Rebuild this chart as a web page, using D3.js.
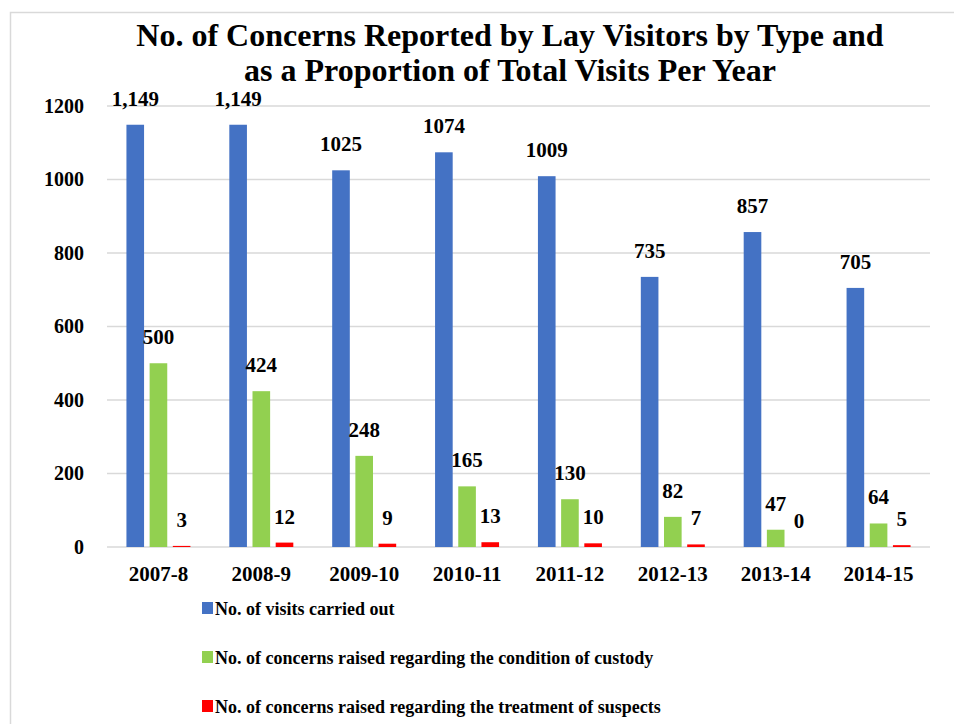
<!DOCTYPE html>
<html>
<head>
<meta charset="utf-8">
<script src="https://cdnjs.cloudflare.com/ajax/libs/d3/7.8.5/d3.min.js"></script>
<style>
  body { margin: 0; background: #fff; }
  text { font-family: "Liberation Serif", "DejaVu Serif", serif; font-weight: bold; fill: #000; }
</style>
</head>
<body>
<div id="chart"></div>
<script>
let CHART_WIDTH = 954;
let CHART_HEIGHT = 724;

var years = ["2007-8", "2008-9", "2009-10", "2010-11", "2011-12", "2012-13", "2013-14", "2014-15"];
var visits = [1149, 1149, 1025, 1074, 1009, 735, 857, 705];
var visitLabels = ["1,149", "1,149", "1025", "1074", "1009", "735", "857", "705"];
var custody = [500, 424, 248, 165, 130, 82, 47, 64];
var treatment = [3, 12, 9, 13, 10, 7, 0, 5];
var yTicks = [0, 200, 400, 600, 800, 1000, 1200];

var seriesNames = [
	"No. of visits carried out",
	"No. of concerns raised regarding the condition of custody",
	"No. of  concerns raised regarding the treatment of suspects"
];
var seriesColors = ["#4472C4", "#92D050", "#FF0000"];

var margin = {left: 107, right: 24, top: 106, bottom: 177};

var svg = d3.select("#chart").append("svg")
	.attr("width", CHART_WIDTH)
	.attr("height", CHART_HEIGHT);

// chart frame
svg.append("rect")
	.attr("x", 10.5).attr("y", 12.5)
	.attr("width", 960).attr("height", 760)
	.attr("fill", "none")
	.attr("stroke", "#d9d9d9")
	.attr("stroke-width", 1.5);

// title
var title = svg.append("text")
	.attr("text-anchor", "middle")
	.style("font-size", "32px");
title.append("tspan").attr("x", 510).attr("y", 46).text("No. of Concerns Reported by Lay Visitors by Type and");
title.append("tspan").attr("x", 510).attr("y", 81).text("as a Proportion of  Total Visits Per Year");

var x0 = d3.scaleBand()
	.domain(years)
	.range([margin.left, CHART_WIDTH - margin.right]);

var x1 = d3.scaleBand()
	.domain([0, 1, 2])
	.range([0, 64])
	.paddingInner(0.24);

var y = d3.scaleLinear()
	.domain([0, 1200])
	.range([CHART_HEIGHT - margin.bottom, margin.top]);

// gridlines
svg.append("g")
	.selectAll("line")
	.data(yTicks)
	.enter().append("line")
	.attr("x1", margin.left)
	.attr("x2", CHART_WIDTH - margin.right)
	.attr("y1", d => y(d))
	.attr("y2", d => y(d))
	.attr("stroke", "#d9d9d9")
	.attr("stroke-width", 1.5);

// y axis labels
var yAxis = d3.axisLeft(y).tickValues(yTicks).tickSize(0).tickPadding(23).tickFormat(d3.format("d"));
var gy = svg.append("g")
	.attr("transform", "translate(" + margin.left + ",0)")
	.call(yAxis);
gy.select(".domain").remove();
gy.selectAll("text").style("font-size", "20px").style("font-family", "Liberation Serif").attr("fill", "#000");

// x axis labels
var xAxis = d3.axisBottom(x0).tickSize(0).tickPadding(19);
var gx = svg.append("g")
	.attr("transform", "translate(0," + y(0) + ")")
	.call(xAxis);
gx.select(".domain").remove();
gx.selectAll("text").style("font-size", "21px").style("font-family", "Liberation Serif").attr("fill", "#000");

var allSeries = [visits, custody, treatment];
var allLabels = [visitLabels, custody.map(String), treatment.map(String)];

var groups = svg.append("g")
	.selectAll("g")
	.data(years)
	.enter().append("g")
	.attr("transform", d => "translate(" + (x0(d) + x0.bandwidth() / 2 - 32) + ",0)");

groups.selectAll("rect")
	.data((d, i) => allSeries.map((s, k) => ({k: k, v: s[i]})))
	.enter().append("rect")
	.attr("x", d => x1(d.k))
	.attr("width", x1.bandwidth())
	.attr("y", d => y(d.v))
	.attr("height", d => y(0) - y(d.v))
	.attr("fill", d => seriesColors[d.k]);

groups.selectAll("text")
	.data((d, i) => allSeries.map((s, k) => ({k: k, v: s[i], t: allLabels[k][i]})))
	.enter().append("text")
	.attr("x", d => x1(d.k) + x1.bandwidth() / 2)
	.attr("y", d => y(d.v) - 19)
	.attr("text-anchor", "middle")
	.style("font-size", "21px")
	.text(d => d.t);

// legend
var legend = svg.append("g")
	.selectAll("g")
	.data(seriesNames)
	.enter().append("g")
	.attr("transform", (d, i) => "translate(202," + (615 + i * 49) + ")");

legend.append("rect")
	.attr("x", 0).attr("y", -13)
	.attr("width", 11).attr("height", 12)
	.attr("fill", (d, i) => seriesColors[i]);

legend.append("text")
	.attr("x", 13)
	.attr("y", 0)
	.style("font-size", "18px")
	.text(d => d);
</script>
</body>
</html>
